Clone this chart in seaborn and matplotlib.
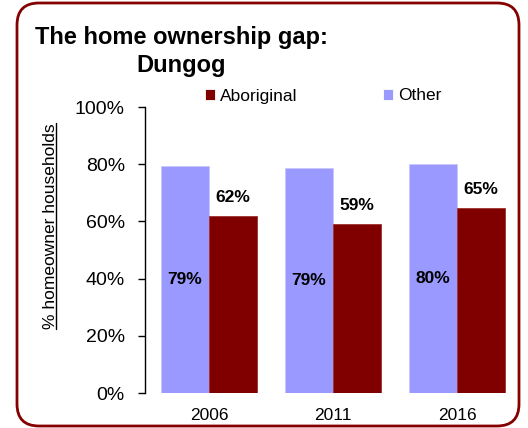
import matplotlib
matplotlib.use("Agg")
import matplotlib.pyplot as plt
import matplotlib.transforms as mtransforms
from matplotlib.patches import FancyBboxPatch
from matplotlib.lines import Line2D
import seaborn as sns
import pandas as pd

years = ["2006", "2011", "2016"]
other = [79.4, 78.6, 80.2]
aboriginal = [61.9, 59.1, 64.6]
groups = ["Other", "Aboriginal"]
colors = {"Other": "#9999ff", "Aboriginal": "#800000"}
yticks = [0, 20, 40, 60, 80, 100]

df = pd.DataFrame({
    "Year": years * 2,
    "Share": other + aboriginal,
    "Group": ["Other"] * 3 + ["Aboriginal"] * 3,
})

sns.set_theme(style="white")
plt.rcParams["font.family"] = ["Liberation Sans", "DejaVu Sans"]
plt.rcParams["text.color"] = "black"
plt.rcParams["axes.labelcolor"] = "black"
plt.rcParams["xtick.color"] = "black"
plt.rcParams["ytick.color"] = "black"

W, H = 528, 428
fig = plt.figure(figsize=(W / 100, H / 100), dpi=100)

# rounded border
border = FancyBboxPatch((17, 2), 502, 423, boxstyle="round,pad=0,rounding_size=22",
                        transform=mtransforms.IdentityTransform(),
                        facecolor="none", edgecolor="#850000", linewidth=2, zorder=5)
fig.patches.append(border)

ax = fig.add_axes([145 / W, 35 / H, 375 / W, 286 / H])
ax.patch.set_alpha(0)
sns.barplot(data=df, x="Year", y="Share", hue="Group", hue_order=groups,
            palette=colors, saturation=1, width=0.774, ax=ax, linewidth=0.6)

for cont, g in zip(ax.containers, groups):
    for p in cont:
        p.set_edgecolor("#c8c8ff" if g == "Other" else "#a03030")

ax.bar_label(ax.containers[0], labels=[f"{v:.0f}%" for v in other],
             label_type="center", fontsize=12.5, fontweight="bold")
ax.bar_label(ax.containers[1], labels=[f"{v:.0f}%" for v in aboriginal],
             label_type="edge", padding=8, fontsize=12.5, fontweight="bold")

ax.set_xlim(-0.516, 2.508)
ax.set_ylim(0, 100)
ax.set_yticks(yticks)
ax.set_yticklabels([f"{t}%" for t in yticks])
ax.set_xlabel("")
for s in ["top", "right", "bottom"]:
    ax.spines[s].set_visible(False)
ax.spines["left"].set_color("black")
ax.spines["left"].set_linewidth(1)
ax.tick_params(axis="y", left=True, direction="out", length=5, width=1,
               colors="black", labelsize=14, pad=9.5)
ax.tick_params(axis="x", length=0, labelsize=12.5, pad=11, colors="black")

ax.set_ylabel("% homeowner households", fontsize=12.5, color="black")
ax.yaxis.set_label_coords(-0.232, 0.584)

# legend
handles, labels = ax.get_legend_handles_labels()
ax.get_legend().remove()
order = [labels.index("Aboriginal"), labels.index("Other")]
fig.legend([handles[i] for i in order], [labels[i] for i in order],
           loc="center left", bbox_to_anchor=(205 / W, 1 - 96 / H), ncol=2,
           frameon=False, fontsize=12.5, handlelength=0.57, handleheight=0.57,
           handletextpad=0.29, columnspacing=4.95, borderpad=0, borderaxespad=0)

fig.text(181.5 / W, 1 - 72 / H, "The home ownership gap:\nDungog", ha="center",
         va="baseline", multialignment="center", fontsize=17, fontweight="bold",
         linespacing=1.26, color="black")

# underline the y label
fig.canvas.draw()
bb = ax.yaxis.label.get_window_extent()
ux = bb.x1 - 2
fig.add_artist(Line2D([ux, ux], [bb.y0, bb.y1], transform=mtransforms.IdentityTransform(),
                      color="black", linewidth=1))

fig.savefig("out.png", dpi=100)
